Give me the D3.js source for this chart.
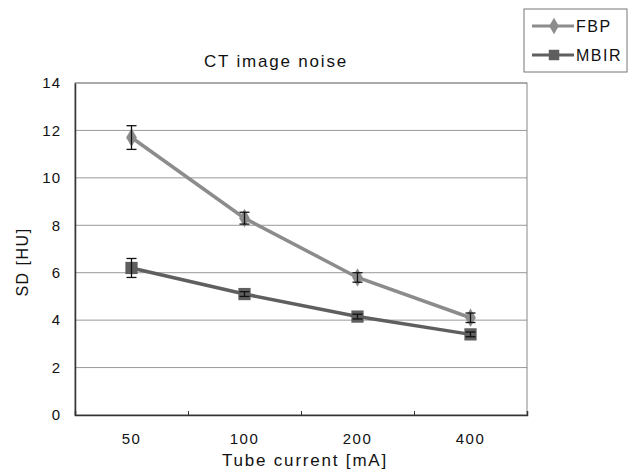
<!DOCTYPE html>
<html lang="en">
    <head>
        <meta charset="UTF-8" />
        <title>CT image noise</title>
        <script src="https://d3js.org/d3.v7.min.js"></script>
        <style>
            body {
                margin: 0;
                padding: 0;
                background: #fff;
            }
            svg text {
                font-family: 'Liberation Sans', Arial, sans-serif;
                fill: #111;
                letter-spacing: 1px;
            }
            .grid line {
                stroke: #999;
                stroke-width: 1px;
            }
        </style>
    </head>
    <body>
        <svg id="chart" width="635" height="475"></svg>

        <script>
            const categories = ['50', '100', '200', '400'];
            const fbp = [11.7, 8.3, 5.8, 4.1];
            const fbpErr = [0.5, 0.25, 0.2, 0.2];
            const mbir = [6.2, 5.1, 4.15, 3.4];
            const mbirErr = [0.4, 0.1, 0.1, 0.1];
            const yTicks = [0, 2, 4, 6, 8, 10, 12, 14];

            const series = [
                { name: 'FBP', values: fbp, err: fbpErr, color: '#8c8c8c', marker: 'diamond' },
                { name: 'MBIR', values: mbir, err: mbirErr, color: '#5f5f5f', marker: 'square' },
            ];

            const margin = { top: 83, right: 108, bottom: 60, left: 75 };
            const svg = d3.select('#chart');
            const width = +svg.attr('width') - margin.left - margin.right;
            const height = +svg.attr('height') - margin.top - margin.bottom;

            const x = d3.scaleBand().domain(categories).range([0, width]);
            const y = d3.scaleLinear().domain([0, 14]).range([height, 0]);

            const g = svg.append('g').attr('transform', `translate(${margin.left},${margin.top})`);

            // gridlines
            g.append('g')
                .attr('class', 'grid')
                .selectAll('line')
                .data(yTicks.filter((d) => d > 0))
                .join('line')
                .attr('x1', 0)
                .attr('x2', width)
                .attr('y1', (d) => y(d))
                .attr('y2', (d) => y(d));

            // plot frame
            g.append('rect')
                .attr('width', width)
                .attr('height', height)
                .attr('fill', 'none')
                .attr('stroke', '#888')
                .attr('stroke-width', 1);

            const xAxis = g
                .append('g')
                .attr('transform', `translate(0,${height})`)
                .call(
                    d3
                        .axisBottom(d3.scaleLinear().domain([0, 4]).range([0, width]))
                        .tickValues([1, 2, 3])
                        .tickSize(-4)
                        .tickFormat('')
                );
            xAxis.select('.domain').attr('stroke', '#333').attr('stroke-width', 1.5);
            xAxis.selectAll('.tick line').attr('stroke', '#333');

            const xLabels = g
                .append('g')
                .attr('transform', `translate(0,${height})`)
                .call(d3.axisBottom(x).tickSize(0).tickPadding(18));
            xLabels.select('.domain').remove();
            xLabels.selectAll('text').style('font-size', '15px').style('letter-spacing', '1.5px');

            const yAxis = g.append('g').call(d3.axisLeft(y).tickValues(yTicks).tickSize(0).tickPadding(14));
            yAxis.select('.domain').attr('stroke', '#333').attr('stroke-width', 1.5);
            yAxis.selectAll('text').style('font-size', '15px');

            const line = d3
                .line()
                .x((d, i) => x(categories[i]) + x.bandwidth() / 2)
                .y((d) => y(d));

            const symbolOf = (m) => (m === 'diamond' ? d3.symbolDiamond : d3.symbolSquare);

            series.forEach((s) => {
                g.append('path')
                    .datum(s.values)
                    .attr('fill', 'none')
                    .attr('stroke', s.color)
                    .attr('stroke-width', 3.5)
                    .attr('d', line);

                const cx = (i) => x(categories[i]) + x.bandwidth() / 2;

                g.selectAll(null)
                    .data(s.values)
                    .join('path')
                    .attr('transform', (d, i) => `translate(${cx(i)},${y(d)})`)
                    .attr('d', d3.symbol().type(symbolOf(s.marker)).size(s.marker === 'diamond' ? 100 : 150))
                    .attr('fill', s.color);

                const eb = g.append('g').attr('stroke', '#111').attr('stroke-width', 1.3);
                s.values.forEach((v, i) => {
                    eb.append('line')
                        .attr('x1', cx(i))
                        .attr('x2', cx(i))
                        .attr('y1', y(v - s.err[i]))
                        .attr('y2', y(v + s.err[i]));
                    [v - s.err[i], v + s.err[i]].forEach((e) => {
                        eb.append('line')
                            .attr('x1', cx(i) - 5)
                            .attr('x2', cx(i) + 5)
                            .attr('y1', y(e))
                            .attr('y2', y(e));
                    });
                });
            });

            // title
            svg.append('text')
                .attr('x', 276)
                .attr('y', 67)
                .attr('text-anchor', 'middle')
                .style('font-size', '17px')
                .style('letter-spacing', '1.8px')
                .text('CT image noise');

            // axis titles
            svg.append('text')
                .attr('x', 305)
                .attr('y', 466)
                .attr('text-anchor', 'middle')
                .style('font-size', '17px')
                .style('letter-spacing', '1.8px')
                .text('Tube current [mA]');

            svg.append('text')
                .attr('transform', 'translate(28,262) rotate(-90)')
                .attr('text-anchor', 'middle')
                .style('font-size', '16px')
                .style('letter-spacing', '1.5px')
                .text('SD [HU]');

            // legend
            const lg = svg.append('g').attr('transform', 'translate(524,9)');
            lg.append('rect').attr('width', 103).attr('height', 63).attr('fill', '#fff').attr('stroke', '#777');
            series.forEach((s, i) => {
                const ly = 17 + i * 29;
                lg.append('line')
                    .attr('x1', 8)
                    .attr('x2', 50)
                    .attr('y1', ly)
                    .attr('y2', ly)
                    .attr('stroke', s.color)
                    .attr('stroke-width', 3);
                lg.append('path')
                    .attr('transform', `translate(30,${ly})`)
                    .attr('d', d3.symbol().type(symbolOf(s.marker)).size(s.marker === 'diamond' ? 80 : 110))
                    .attr('fill', s.color);
                lg.append('text')
                    .attr('x', 52)
                    .attr('y', ly + 6)
                    .style('font-size', '16px')
                    .style('letter-spacing', '1.5px')
                    .text(s.name);
            });
        </script>
    </body>
</html>
